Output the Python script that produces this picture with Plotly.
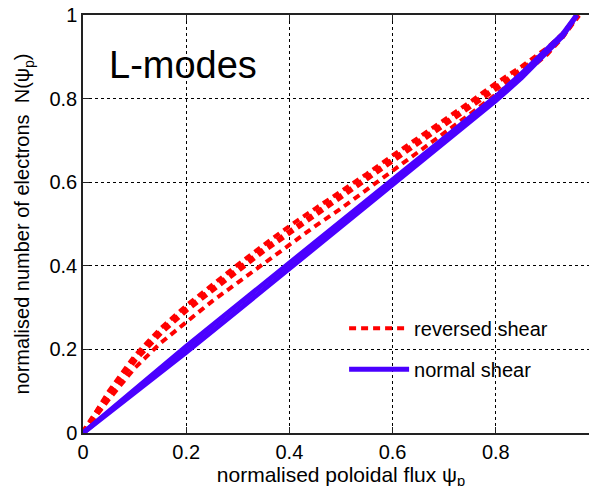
import plotly.graph_objects as go

# normalised poloidal flux
psi = [0, 0.05, 0.1, 0.15, 0.2, 0.25, 0.3, 0.35, 0.4, 0.45, 0.5,
       0.55, 0.6, 0.65, 0.7, 0.75, 0.8, 0.85, 0.9, 0.93, 0.96]

# reversed shear L-mode profiles (red dashed)
rs_upper = [0, 0.1, 0.185, 0.25, 0.305, 0.355, 0.403, 0.45, 0.495, 0.537, 0.578,
            0.62, 0.664, 0.706, 0.75, 0.792, 0.837, 0.877, 0.922, 0.956, 1.0]
rs_mid = [0, 0.092, 0.175, 0.24, 0.295, 0.343, 0.39, 0.437, 0.48, 0.523, 0.565,
          0.607, 0.652, 0.693, 0.738, 0.78, 0.825, 0.868, 0.915, 0.952, 1.0]
rs_lower = [0, 0.08, 0.155, 0.215, 0.265, 0.315, 0.36, 0.405, 0.45, 0.495, 0.537,
            0.582, 0.628, 0.672, 0.718, 0.763, 0.81, 0.855, 0.906, 0.947, 1.0]

# normal shear L-mode profiles (blue solid)
psi_n = [0, 0.1, 0.2, 0.3, 0.4, 0.5, 0.6, 0.7, 0.8, 0.85, 0.9, 0.93, 0.957]
ns_a = [0, 0.105, 0.207, 0.307, 0.406, 0.505, 0.605, 0.705, 0.805, 0.86, 0.92, 0.955, 1.0]
ns_b = [0, 0.095, 0.193, 0.293, 0.394, 0.495, 0.595, 0.695, 0.795, 0.85, 0.912, 0.95, 1.0]

RED = "#ff0000"
BLUE = "#4a00ff"

fig = go.Figure()

for i, ys in enumerate([rs_upper, rs_mid, rs_lower]):
    fig.add_trace(go.Scatter(
        x=psi, y=ys, mode="lines",
        line=dict(color=RED, width=4 if i != 1 else 6, dash="7px,5px"),
        name="reversed shear", showlegend=(i == 0), legendgroup="rs",
        hoverinfo="skip"))

for i, ys in enumerate([ns_a, ns_b]):
    fig.add_trace(go.Scatter(
        x=psi_n, y=ys, mode="lines",
        line=dict(color=BLUE, width=5),
        name="normal shear", showlegend=(i == 0), legendgroup="ns",
        hoverinfo="skip"))

font = "Liberation Sans, Arial, Helvetica, sans-serif"

fig.update_layout(
    width=597, height=486,
    margin=dict(l=75, r=6, t=7, b=61),
    paper_bgcolor="white", plot_bgcolor="white",
    font=dict(family=font, color="black"),
    showlegend=True,
    legend=dict(x=0.506, y=0.297, xanchor="left", yanchor="top",
                bgcolor="rgba(0,0,0,0)", font=dict(size=20),
                traceorder="grouped", tracegroupgap=12,
                itemwidth=60),
    xaxis=dict(range=[0, 1], tickvals=[0, 0.2, 0.4, 0.6, 0.8, 1],
               ticktext=["0", "0.2", "0.4", "0.6", "0.8", "1"],
               showgrid=True, gridcolor="black", gridwidth=1, griddash="dot",
               zeroline=False, showline=True, linecolor="#222", linewidth=1.5,
               mirror="ticks", ticks="inside", ticklen=6, tickcolor="#222",
               tickfont=dict(size=20), automargin=False,
               ticklabeloverflow="allow",
               title=dict(text="normalised poloidal flux ψ<sub>p</sub>",
                          font=dict(size=21), standoff=0)),
    yaxis=dict(range=[0, 1], tickvals=[0, 0.2, 0.4, 0.6, 0.8, 1],
               ticktext=["0", "0.2", "0.4", "0.6", "0.8", "1"],
               showgrid=True, gridcolor="black", gridwidth=1, griddash="dot",
               zeroline=False, showline=True, linecolor="#222", linewidth=1.5,
               mirror="ticks", ticks="inside", ticklen=6, tickcolor="#222",
               tickfont=dict(size=20), automargin=False,
               ticklabeloverflow="allow",
               title=dict(text="normalised number of electrons  N(ψ<sub>p</sub>)",
                          font=dict(size=20), standoff=14)),
)

fig.add_annotation(text="L-modes", xref="paper", yref="paper",
                   x=0.047, y=0.88, xanchor="left", yanchor="middle",
                   showarrow=False, font=dict(size=38, family=font))

fig.write_html("out.html")
